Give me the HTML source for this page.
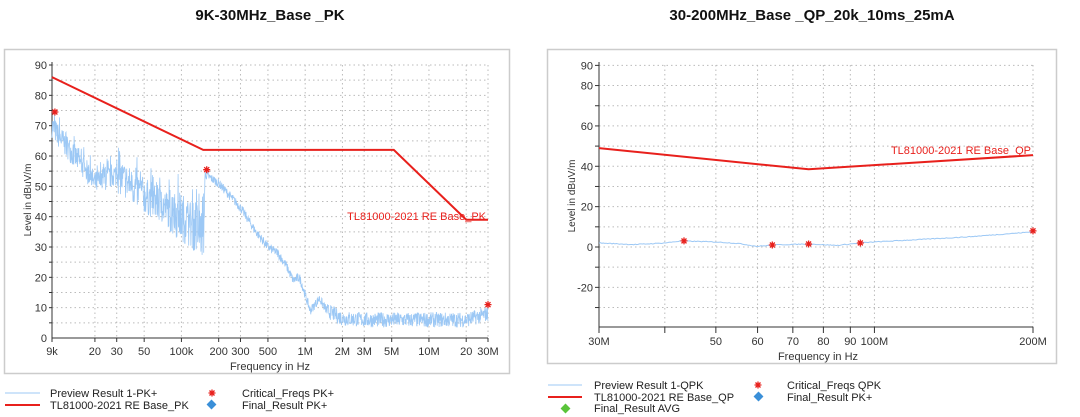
<!DOCTYPE html>
<html><head><meta charset="utf-8">
<style>
html,body{margin:0;padding:0;background:#fff;width:1080px;height:417px;overflow:hidden;font-family:"Liberation Sans",Arial,sans-serif;}
svg text{font-family:"Liberation Sans",Arial,sans-serif;}
</style></head>
<body>
<svg id="s" width="1080" height="417" xmlns="http://www.w3.org/2000/svg">
<rect width="1080" height="417" fill="#fff"/>
<text x="270" y="20" font-size="15" font-weight="bold" text-anchor="middle" fill="#111">9K-30MHz_Base _PK</text>
<text x="812" y="20" font-size="15" font-weight="bold" text-anchor="middle" fill="#111">30-200MHz_Base _QP_20k_10ms_25mA</text>
<rect x="4.5" y="49.5" width="505" height="324" fill="#fff" stroke="#ccc" stroke-width="1.5"/>
<rect x="547.5" y="49.5" width="509" height="314" fill="#fff" stroke="#ccc" stroke-width="1.5"/>
<g id="L"></g><g id="R"></g><g id="LG"></g>
<!-- legends -->
<line x1="5" y1="393" x2="40" y2="393" stroke="#9cc8f5" stroke-width="1"/>
<text x="50" y="397" font-size="11" fill="#222">Preview Result 1-PK+</text>
<line x1="5" y1="405" x2="40" y2="405" stroke="#e8201c" stroke-width="2"/>
<text x="50" y="409" font-size="11" fill="#222">TL81000-2021  RE Base_PK</text>
<text x="242" y="397" font-size="11" fill="#222">Critical_Freqs PK+</text>
<rect x="208" y="401" width="7" height="7" fill="#3a8fd8" transform="rotate(45 211.5 404.5)"/>
<text x="242" y="409" font-size="11" fill="#222">Final_Result PK+</text>

<line x1="548" y1="385" x2="582" y2="385" stroke="#9cc8f5" stroke-width="1"/>
<text x="594" y="389" font-size="11" fill="#222">Preview Result 1-QPK</text>
<line x1="548" y1="397" x2="582" y2="397" stroke="#e8201c" stroke-width="2"/>
<text x="594" y="401" font-size="11" fill="#222">TL81000-2021  RE Base_QP</text>
<rect x="562" y="405" width="7" height="7" fill="#5ac43a" transform="rotate(45 565.5 408.5)"/>
<text x="594" y="412" font-size="11" fill="#222">Final_Result AVG</text>
<text x="787" y="389" font-size="11" fill="#222">Critical_Freqs QPK</text>
<rect x="755" y="393" width="7" height="7" fill="#3a8fd8" transform="rotate(45 758.5 396.5)"/>
<text x="787" y="401" font-size="11" fill="#222">Final_Result PK+</text>
</svg>
<script>
var NS="http://www.w3.org/2000/svg";
function el(p,t,a,txt){var e=document.createElementNS(NS,t);for(var k in a)e.setAttribute(k,a[k]);if(txt!=null)e.textContent=txt;p.appendChild(e);return e;}
function star(p,x,y){var r=3.5,s='';for(var i=0;i<4;i++){var a=i*Math.PI/4;s+='M'+(x-r*Math.cos(a)).toFixed(1)+','+(y-r*Math.sin(a)).toFixed(1)+'L'+(x+r*Math.cos(a)).toFixed(1)+','+(y+r*Math.sin(a)).toFixed(1);}
 el(p,'path',{d:s,stroke:'#e8201c','stroke-width':1.3,fill:'none'});}
var seed=7;function rnd(){seed=(seed*16807)%2147483647;return seed/2147483647;}
function interp(pts,f){var lf=Math.log10(f);for(var i=0;i<pts.length-1;i++){var a=Math.log10(pts[i][0]),b=Math.log10(pts[i+1][0]);if(lf>=a&&lf<=b){var t=(lf-a)/(b-a);return pts[i][1]+t*(pts[i+1][1]-pts[i][1]);}}return pts[pts.length-1][1];}
var LG=document.getElementById('LG');star(LG,212,393);star(LG,758,385);

/* LEFT */
(function(){
var g=document.getElementById('L');
var x0=52,x1=488,yT=65,yB=338,f0=9e3,f1=30e6;
var X=function(f){return x0+(x1-x0)*Math.log10(f/f0)/Math.log10(f1/f0);};
var Y=function(d){return yB-(yB-yT)*d/90;};
for(var d=5;d<=90;d+=5){el(g,'line',{x1:x0,x2:x1,y1:Y(d),y2:Y(d),stroke:'#bbb','stroke-dasharray':'1.5,3','stroke-width':1});
 el(g,'line',{x1:x0-3,x2:x0,y1:Y(d),y2:Y(d),stroke:'#333'});}
for(d=0;d<=90;d+=10)el(g,'text',{x:x0-5,y:Y(d)+4,'font-size':11,'text-anchor':'end',fill:'#333'},d);
var tk=[[9e3,'9k'],[2e4,'20'],[3e4,'30'],[5e4,'50'],[1e5,'100k'],[2e5,'200'],[3e5,'300'],[5e5,'500'],[1e6,'1M'],[2e6,'2M'],[3e6,'3M'],[5e6,'5M'],[1e7,'10M'],[2e7,'20'],[3e7,'30M']];
tk.forEach(function(t){var x=X(t[0]);el(g,'line',{x1:x,x2:x,y1:yT,y2:yB,stroke:'#bbb','stroke-dasharray':'1.5,3'});
 el(g,'line',{x1:x,x2:x,y1:yB,y2:yB+4,stroke:'#333'});el(g,'text',{x:x,y:yB+17,'font-size':11,'text-anchor':'middle',fill:'#333'},t[1]);});
el(g,'line',{x1:x0,x2:x0,y1:yT-3,y2:yB,stroke:'#333'});el(g,'line',{x1:x0,x2:x1,y1:yB,y2:yB,stroke:'#333'});
el(g,'text',{x:270,y:370,'font-size':11,'text-anchor':'middle',fill:'#333'},'Frequency in Hz');
el(g,'text',{x:0,y:0,'font-size':10,'text-anchor':'middle',fill:'#333',transform:'translate(31,200) rotate(-90)'},'Level in dBuV/m');
var pts=[[9e3,70],[1e4,67],[1.5e4,58],[2e4,51],[3e4,54],[5e4,47],[1e5,40],[1.5e5,34],[1.52e5,34],[1.55e5,54],[2e5,51],[3e5,43],[4e5,35],[5e5,30],[6e5,28],[7e5,24],[8e5,19],[9e5,20],[1.1e6,9],[1.3e6,13],[1.5e6,9],[2e6,6.5],[3e6,6],[1e7,6],[2e7,6],[3e7,8]];
var d2='';var N=1400;
for(var i=0;i<=N;i++){var f=f0*Math.pow(f1/f0,i/N);var v=interp(pts,f);
 var amp=f<1.53e5?(f<3e4?4:(f<8e4?6:8)):(f<1.5e6?1.5:2.5);
 v+= (rnd()-0.5)*2*amp; if(f<1.53e5&&rnd()<0.15)v+=amp*0.8;
 d2+=(i?'L':'M')+X(f).toFixed(1)+','+Y(v).toFixed(1);}
el(g,'path',{d:d2,fill:'none',stroke:'#9cc8f5','stroke-width':0.8});
var lim=[[9e3,86],[1.5e5,62],[5.2e6,62],[2e7,39],[3e7,39]];
el(g,'polyline',{points:lim.map(function(p){return X(p[0])+','+Y(p[1]);}).join(' '),fill:'none',stroke:'#e8201c','stroke-width':2});
el(g,'text',{x:486,y:220,'font-size':11,'text-anchor':'end',fill:'#e8201c'},'TL81000-2021  RE Base_PK');
[[9.5e3,74.5],[1.6e5,55.5],[3e7,11]].forEach(function(p){star(g,X(p[0]),Y(p[1]));});
})();

/* RIGHT */
(function(){
var g=document.getElementById('R');
var x0=599,x1=1033,f0=30e6,f1=200e6;
var X=function(f){return x0+(x1-x0)*Math.log10(f/f0)/Math.log10(f1/f0);};
var Y=function(d){return 247-2.018*d;};
for(var d=-30;d<=90;d+=10){el(g,'line',{x1:x0,x2:x1,y1:Y(d),y2:Y(d),stroke:'#bbb','stroke-dasharray':'1.5,3'});
 el(g,'line',{x1:x0-4,x2:x0,y1:Y(d),y2:Y(d),stroke:'#333'});}
[90,80,60,40,20,0,-20].forEach(function(d){el(g,'text',{x:x0-6,y:Y(d)+4,'font-size':11,'text-anchor':'end',fill:'#333'},d);});
var tk=[[3e7,'30M'],[4e7,''],[5e7,'50'],[6e7,'60'],[7e7,'70'],[8e7,'80'],[9e7,'90'],[1e8,'100M'],[2e8,'200M']];
tk.forEach(function(t){var x=X(t[0]);el(g,'line',{x1:x,x2:x,y1:65,y2:327,stroke:'#bbb','stroke-dasharray':'1.5,3'});
 el(g,'line',{x1:x,x2:x,y1:327,y2:333,stroke:'#333'});if(t[1])el(g,'text',{x:x,y:345,'font-size':11,'text-anchor':'middle',fill:'#333'},t[1]);});
el(g,'line',{x1:x0,x2:x0,y1:62,y2:327,stroke:'#333'});el(g,'line',{x1:x0,x2:x1,y1:327,y2:327,stroke:'#333'});
el(g,'text',{x:818,y:360,'font-size':11,'text-anchor':'middle',fill:'#333'},'Frequency in Hz');
el(g,'text',{x:0,y:0,'font-size':10,'text-anchor':'middle',fill:'#333',transform:'translate(575,196) rotate(-90)'},'Level in dBuV/m');
var pts=[[3e7,2],[3.5e7,1.2],[4e7,2],[4.3e7,3],[5e7,2.5],[5.5e7,1.8],[6e7,0.3],[6.4e7,1],[7.5e7,1.5],[8.5e7,0.8],[9.4e7,2],[1e8,2.5],[1.5e8,5],[2e8,7.5]];
var s='';for(var i=0;i<=300;i++){var f=f0*Math.pow(f1/f0,i/300);var v=interp(pts,f)+(rnd()-0.5)*0.4;s+=(i?'L':'M')+X(f).toFixed(1)+','+Y(v).toFixed(1);}
el(g,'path',{d:s,fill:'none',stroke:'#9cc8f5','stroke-width':1});
var lim=[[3e7,49],[7.5e7,38.5],[2e8,45.5]];
el(g,'polyline',{points:lim.map(function(p){return X(p[0])+','+Y(p[1]);}).join(' '),fill:'none',stroke:'#e8201c','stroke-width':2});
el(g,'text',{x:1031,y:154,'font-size':11,'text-anchor':'end',fill:'#e8201c'},'TL81000-2021  RE Base_QP');
[[4.35e7,3],[6.4e7,1],[7.5e7,1.5],[9.4e7,2],[2e8,8]].forEach(function(p){star(g,X(p[0]),Y(p[1]));});
})();
</script>
</body></html>
